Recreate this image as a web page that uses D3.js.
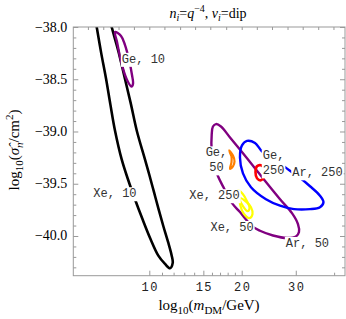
<!DOCTYPE html>
<html>
<head>
<meta charset="utf-8">
<script src="https://cdnjs.cloudflare.com/ajax/libs/d3/7.8.5/d3.min.js"></script>
<style>
  body { margin: 0; background: #fff; }
</style>
</head>
<body>
<div id="chart"></div>
<script>

// contour points, [m_DM (GeV), log10 sigma]
var xe10 = [[6.645,-37.90],[6.74,-38.0],[6.96,-38.238],[7.23,-38.495],[7.47,-38.743],[7.73,-38.99],
    [8.13,-39.267],[8.52,-39.457],[8.98,-39.648],[9.50,-39.838],[10.09,-40.029],
    [10.70,-40.188],[11.25,-40.267],[11.68,-40.308],[11.92,-40.257],[11.83,-40.188],[11.51,-40.057],
    [11.10,-39.902],[10.72,-39.743],[10.36,-39.581],[10.01,-39.419],[9.68,-39.267],[9.10,-38.99],
    [8.72,-38.743],[8.33,-38.495],[7.94,-38.238],[7.54,-38.0],[7.39,-37.90]];
var ge10 = [[7.73,-38.048],[8.09,-38.086],[8.33,-38.171],[8.59,-38.314],[8.78,-38.457],[8.85,-38.543],
    [8.75,-38.571],[8.52,-38.524],[8.27,-38.429],[8.03,-38.286],[7.85,-38.143]];
var ar50 = [[15.97,-39.190],[15.97,-39.029],[16.12,-38.952],[16.49,-38.929],[17.12,-38.952],[18.32,-39.057],
    [20.81,-39.257],[23.46,-39.448],[26.66,-39.648],[29.16,-39.781],[30.50,-39.886],[30.73,-39.962],
    [30.05,-40.005],[28.08,-40.019],[25.29,-39.995],[22.94,-39.950],[21.61,-39.905],[19.74,-39.771],
    [18.60,-39.686],[17.51,-39.543],[16.74,-39.429],[16.25,-39.314]];
var ar250 = [[23.28,-39.190],[22.10,-39.110],[20.81,-39.090],[20.04,-39.133],[19.74,-39.248],[20.19,-39.40],
    [21.44,-39.533],[23.99,-39.648],[26.66,-39.710],[29.60,-39.743],[33.38,-39.743],[35.97,-39.724],
    [36.93,-39.676],[35.97,-39.614],[33.38,-39.524],[30.50,-39.429],[28.72,-39.376],[26.66,-39.305],
    [24.72,-39.238]];
var ge50 = [[18.18,-39.181],[18.73,-39.229],[18.95,-39.286],[18.73,-39.333],[18.32,-39.357],[18.52,-39.295],[18.52,-39.238]];
var ge250 = [[23.11,-39.324],[22.43,-39.333],[22.18,-39.390],[22.43,-39.448],[23.11,-39.467],[23.63,-39.438],[23.63,-39.352]];
var xe250 = [[19.45,-39.562],[20.19,-39.60],[20.81,-39.667],[21.21,-39.733],[20.89,-39.762],[20.19,-39.714],[19.60,-39.638]];
var xe50 = [[19.74,-39.638],[20.65,-39.671],[21.44,-39.724],[21.69,-39.790],[21.21,-39.829],[20.34,-39.790],[19.82,-39.714]];

// contour labels: text lines and anchor [m, log10 sigma] of the first baseline
var labelText = [["Ge, 10"],["Xe, 10"],["Ge,","50"],["Ge,","250"],["Ar, 250"],["Xe, 250"],["Xe, 50"],["Ar, 50"]];
var labelPos = [[9.57,-38.343],[7.73,-39.629],[16.55,-39.238],[25.4,-39.267],[35.30,-39.429],[16.31,-39.648],[18.60,-39.952],[32.75,-40.105]];

// ticks
var xMajor = [10, 15, 20, 30];
var xMinor = [11, 12, 13, 14, 16, 17, 18, 19, 40];
var xTop = [6.31, 7.08, 7.94, 8.91, 10, 11.2, 12.6, 14.1, 15.8, 17.8, 20, 22.4, 25.1, 28.2, 31.6, 35.5, 39.8];
var yMajor = [-38.0, -38.5, -39.0, -39.5, -40.0];
var yMinor = [-38.1,-38.2,-38.3,-38.4,-38.6,-38.7,-38.8,-38.9,-39.1,-39.2,-39.3,-39.4,
    -39.6,-39.7,-39.8,-39.9,-40.1,-40.2,-40.3];


function ContourChart(id) {
    var self = this;
    self.sectionId = id;
    self.initVis();
}

ContourChart.prototype.initVis = function () {
    var self = this;

    self.svgWidth = 346;
    self.svgHeight = 319;
    self.margin = { top: 27, right: 1, bottom: 43.3, left: 73.3 };
    var w = self.svgWidth - self.margin.left - self.margin.right;
    var h = self.svgHeight - self.margin.top - self.margin.bottom;

    self.svg = d3.select("#" + self.sectionId)
        .append("svg")
        .attr("width", self.svgWidth)
        .attr("height", self.svgHeight)
        .style("font-family", "'Liberation Serif', 'Times New Roman', serif");

    self.x = d3.scaleLog().domain([5.655, 43.4]).range([0, w]);
    self.y = d3.scaleLinear().domain([-40.38, -38.0]).range([h, 0]);

    var g = self.svg.append("g")
        .attr("transform", `translate(${self.margin.left},${self.margin.top})`);

    g.append("clipPath").attr("id", "plotClip")
        .append("rect").attr("width", w).attr("height", h);

    // ticks (inside, on all four sides)
    var tickColor = "#999";
    var bottom = g.append("g").attr("transform", `translate(0,${h})`);
    bottom.call(d3.axisTop(self.x).tickValues(xMajor).tickSize(5).tickFormat(""));
    bottom.append("g").call(d3.axisTop(self.x).tickValues(xMinor).tickSize(3).tickFormat(""));
    g.append("g").call(d3.axisBottom(self.x).tickValues(xTop).tickSize(3).tickFormat(""));

    g.append("g").call(d3.axisRight(self.y).tickValues(yMajor).tickSize(5).tickFormat(""));
    g.append("g").call(d3.axisRight(self.y).tickValues(yMinor).tickSize(3).tickFormat(""));
    var right = g.append("g").attr("transform", `translate(${w},0)`);
    right.call(d3.axisLeft(self.y).tickValues(yMajor).tickSize(5).tickFormat(""));
    right.append("g").call(d3.axisLeft(self.y).tickValues(yMinor).tickSize(3).tickFormat(""));

    g.selectAll(".domain").remove();
    g.selectAll(".tick line").attr("stroke", tickColor);

    // tick labels
    g.selectAll(".xlab")
        .data(xMajor)
        .join("text")
        .attr("class", "xlab")
        .attr("x", d => self.x(d) + 1)
        .attr("y", h + 15)
        .attr("text-anchor", "middle")
        .style("font-family", "'Liberation Mono', monospace")
        .style("font-size", "12px")
        .style("letter-spacing", "1.5px")
        .attr("fill", "#222")
        .text(d => d);

    g.selectAll(".ylab")
        .data(yMajor)
        .join("text")
        .attr("class", "ylab")
        .attr("x", -6)
        .attr("y", d => self.y(d) + 4.5)
        .attr("text-anchor", "end")
        .style("font-size", "14px")
        .text(d => "\u2212" + Math.abs(d).toFixed(1));

    // contours
    var contours = [
        { pts: xe10, color: "#000000", width: 2.6, closed: false },
        { pts: ge10, color: "#800080", width: 2.4, closed: true },
        { pts: ar50, color: "#800080", width: 2.4, closed: true },
        { pts: ar250, color: "#0000ff", width: 2.4, closed: true },
        { pts: ge50, color: "#ff8000", width: 2.2, closed: true },
        { pts: ge250, color: "#ff0000", width: 2.6, closed: true },
        { pts: xe250, color: "#ffff00", width: 2.2, closed: true },
        { pts: xe50, color: "#ffff00", width: 2.2, closed: true }
    ];

    var lineOpen = d3.line().x(d => self.x(d[0])).y(d => self.y(d[1])).curve(d3.curveCatmullRom);
    var lineClosed = d3.line().x(d => self.x(d[0])).y(d => self.y(d[1])).curve(d3.curveCatmullRomClosed);

    var curves = g.append("g").attr("clip-path", "url(#plotClip)");
    curves.selectAll("path")
        .data(contours)
        .join("path")
        .attr("d", d => d.closed ? lineClosed(d.pts) : lineOpen(d.pts))
        .attr("fill", "none")
        .attr("stroke", d => d.color)
        .attr("stroke-width", d => d.width)
        .attr("stroke-linejoin", "round");

    // contour labels with white background
    var labels = g.append("g")
        .selectAll("g")
        .data(labelText.map((t, i) => ({ lines: t, pos: labelPos[i] })))
        .join("g")
        .attr("transform", d => `translate(${self.x(d.pos[0])},${self.y(d.pos[1])})`);

    labels.each(function (d) {
        var lg = d3.select(this);
        var bg = lg.append("rect").attr("fill", "#fff");
        var txt = lg.append("text")
            .attr("text-anchor", "middle")
            .style("font-family", "'Liberation Mono', monospace")
            .style("font-size", "12px")
            .attr("fill", "#333");
        d.lines.forEach(function (s, i) {
            txt.append("tspan").attr("x", 0).attr("y", i * 15).text(s);
        });
        var b = txt.node().getBBox();
        bg.attr("x", b.x - 1).attr("y", b.y).attr("width", b.width + 2).attr("height", b.height);
    });

    // frame
    g.append("rect")
        .attr("width", w).attr("height", h)
        .attr("fill", "none")
        .attr("stroke", "#999")
        .attr("stroke-width", 1);

    // title
    var title = self.svg.append("text")
        .attr("x", 208).attr("y", 18)
        .attr("text-anchor", "middle")
        .style("font-size", "14px");
    title.append("tspan").style("font-style", "italic").text("n");
    title.append("tspan").style("font-style", "italic").style("font-size", "10px").attr("dy", 3).text("i");
    title.append("tspan").attr("dy", -3).text("=");
    title.append("tspan").style("font-style", "italic").text("q");
    title.append("tspan").style("font-size", "10px").attr("dy", -6).text("\u22124");
    title.append("tspan").attr("dy", 6).text(", ");
    title.append("tspan").style("font-style", "italic").text("\u03bd");
    title.append("tspan").style("font-style", "italic").style("font-size", "10px").attr("dy", 3).text("i");
    title.append("tspan").attr("dy", -3).text("=dip");

    // x axis title
    var xt = self.svg.append("text")
        .attr("x", 209).attr("y", 310)
        .attr("text-anchor", "middle")
        .style("font-size", "15px");
    xt.append("tspan").text("log");
    xt.append("tspan").style("font-size", "11px").attr("dy", 4).text("10");
    xt.append("tspan").attr("dy", -4).text("(");
    xt.append("tspan").style("font-style", "italic").text("m");
    xt.append("tspan").style("font-size", "11px").attr("dy", 4).text("DM");
    xt.append("tspan").attr("dy", -4).text("/GeV)");

    // y axis title
    var yt = self.svg.append("text")
        .attr("transform", "translate(19,150) rotate(-90)")
        .attr("text-anchor", "middle")
        .style("font-size", "15px");
    yt.append("tspan").text("log");
    yt.append("tspan").style("font-size", "11px").attr("dy", 4).text("10");
    yt.append("tspan").attr("dy", -4).text("(");
    yt.append("tspan").style("font-style", "italic").text("\u03c3\u0302");
    yt.append("tspan").style("font-style", "italic").style("font-size", "11px").attr("dy", 4).text("n");
    yt.append("tspan").attr("dy", -4).text("/cm");
    yt.append("tspan").style("font-size", "11px").attr("dy", -6).text("2");
    yt.append("tspan").attr("dy", 6).text(")");
};

var chart = new ContourChart("chart");
</script>
</body>
</html>
